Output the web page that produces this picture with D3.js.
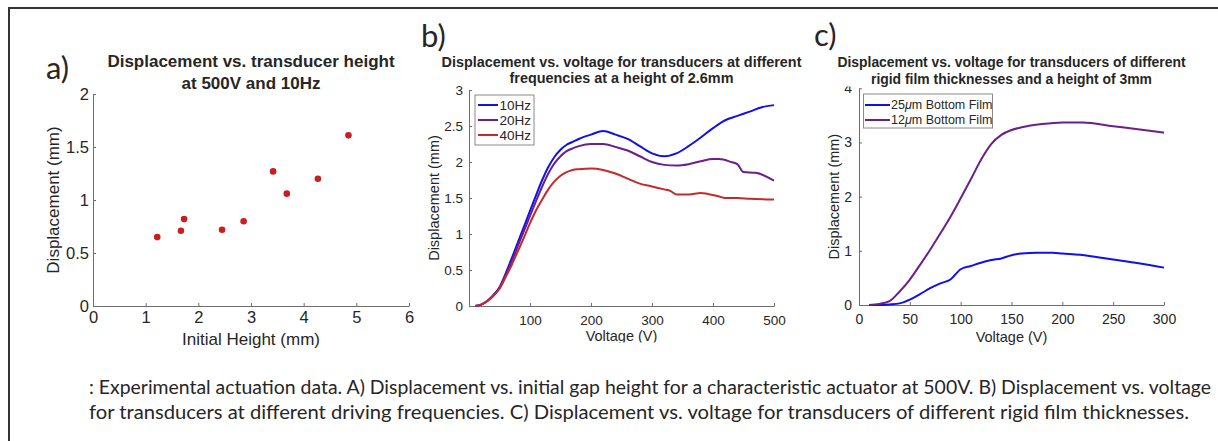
<!DOCTYPE html>
<html>
<head>
<meta charset="utf-8">
<script src="https://cdn.jsdelivr.net/npm/d3@7"></script>
<style>
  body { margin: 0; background: #fff; }
  svg text { font-family: "Liberation Sans", Arial, sans-serif; fill: #262626; }
  .axis path, .axis line { stroke: #6e6e6e; }
</style>
</head>
<body>
<svg id="fig" width="1218" height="441"></svg>
<script>
// panel a: displacement vs initial height
const heightA = [1.22, 1.67, 1.73, 2.45, 2.86, 3.42, 3.68, 4.27, 4.85];
const dispA   = [0.65, 0.71, 0.82, 0.72, 0.80, 1.27, 1.06, 1.20, 1.61];

// panel b: displacement vs voltage at three frequencies
const voltB10 = [10,20,30,40,50,60,70,80,90,100,110,120,130,140,150,160,170,180,200,220,240,260,280,300,320,340,360,380,400,420,440,460,480,500];
const disp10  = [0,0.02,0.07,0.15,0.26,0.45,0.66,0.88,1.10,1.32,1.54,1.75,1.93,2.07,2.17,2.24,2.28,2.32,2.38,2.43,2.38,2.32,2.22,2.12,2.08,2.12,2.22,2.34,2.47,2.58,2.64,2.70,2.76,2.79];
const voltB20 = [10,20,30,40,50,60,70,80,90,100,110,120,130,140,150,160,170,180,200,220,240,260,280,300,320,340,360,380,400,410,430,440,450,470,500];
const disp20  = [0,0.02,0.07,0.15,0.25,0.43,0.62,0.83,1.04,1.25,1.46,1.66,1.84,1.98,2.08,2.15,2.19,2.22,2.25,2.25,2.21,2.16,2.08,2.00,1.96,1.95,1.97,2.01,2.04,2.04,2.00,1.97,1.86,1.85,1.74];
const voltB40 = [10,20,30,40,50,60,70,80,90,100,110,120,130,140,150,160,170,180,200,220,240,260,280,300,320,330,340,360,380,390,410,420,440,460,500];
const disp40  = [0,0.02,0.07,0.14,0.24,0.40,0.57,0.76,0.95,1.15,1.33,1.48,1.62,1.73,1.81,1.86,1.89,1.90,1.91,1.89,1.84,1.77,1.70,1.66,1.62,1.60,1.55,1.55,1.57,1.56,1.52,1.50,1.50,1.49,1.48];
const legendB = ["10Hz", "20Hz", "40Hz"];

// panel c: displacement vs voltage for two film thicknesses
const voltC25 = [10,20,30,40,50,60,70,80,90,100,110,120,130,140,150,160,175,190,200,225,250,275,300];
const disp25  = [0,0,0.01,0.03,0.10,0.20,0.31,0.40,0.47,0.66,0.72,0.78,0.83,0.86,0.92,0.95,0.965,0.965,0.95,0.91,0.84,0.77,0.69];
const voltC12 = [10,20,30,40,50,60,70,80,90,100,110,120,130,140,150,160,180,200,220,250,280,300];
const disp12  = [0,0.02,0.07,0.25,0.47,0.74,1.02,1.32,1.63,1.97,2.32,2.68,2.97,3.14,3.23,3.28,3.34,3.37,3.37,3.30,3.23,3.18];
const legendC = ["25", "12"];

const ticksAx = [0,1,2,3,4,5,6];
const ticksAy = [0,0.5,1,1.5,2];
const ticksBx = [100,200,300,400,500];
const ticksBy = [0,0.5,1,1.5,2,2.5,3];
const ticksCx = [0,50,100,150,200,250,300];
const ticksCy = [0,1,2,3,4];

const captionLines = [
  ": Experimental actuation data. A) Displacement vs. initial gap height for a characteristic actuator at 500V. B) Displacement vs. voltage",
  "for transducers at different driving frequencies. C) Displacement vs. voltage for transducers of different rigid film thicknesses."
];

const blue = "#1010e8", purple = "#6a1f8c", red = "#c42a2a";
const svg = d3.select("#fig");
const fmt = d3.format("~g");

const defs = svg.append("defs");
defs.append("clipPath").attr("id", "cutB").append("rect")
  .attr("x", 400).attr("y", 0).attr("width", 420).attr("height", 342.5);
defs.append("clipPath").attr("id", "cutC").append("rect")
  .attr("x", 800).attr("y", 86.5).attr("width", 400).attr("height", 260);

// frame
svg.append("path")
  .attr("d", "M9,441 V8 H1218")
  .attr("fill", "none").attr("stroke", "#333").attr("stroke-width", 2);

function axes(x, y, o) {
  const g = svg.append("g");
  g.append("g").attr("class", "axis")
    .attr("transform", `translate(0,${y.range()[0]})`)
    .call(d3.axisBottom(x).tickValues(o.xt).tickFormat(fmt)
      .tickSizeInner(-3).tickSizeOuter(0).tickPadding(o.xpad))
    .call(a => a.selectAll("text").style("font-size", o.tick + "px").attr("fill", "#262626"));
  // wrapper without transform so the clip rect is in page coordinates
  const yw = g.append("g");
  if (o.yclip) yw.attr("clip-path", o.yclip);
  yw.append("g").attr("class", "axis")
    .attr("transform", `translate(${x.range()[0]},0)`)
    .call(d3.axisLeft(y).tickValues(o.yt).tickFormat(fmt)
      .tickSizeInner(-3).tickSizeOuter(0).tickPadding(o.ypad))
    .call(a => a.selectAll("text").style("font-size", o.tick + "px").attr("fill", "#262626"));
  g.selectAll(".axis path").attr("stroke", "#6e6e6e");
  g.selectAll(".axis line").attr("stroke", "#6e6e6e");

  const cx = (x.range()[0] + x.range()[1]) / 2;
  const cy = (y.range()[0] + y.range()[1]) / 2;
  const xl = g.append("text").attr("x", cx).attr("y", o.xlabY)
    .attr("text-anchor", "middle").style("font-size", o.lab + "px").text(o.xlab);
  if (o.xclip) xl.attr("clip-path", o.xclip);
  g.append("text").attr("transform", `translate(${o.ylabX},${cy}) rotate(-90)`)
    .attr("text-anchor", "middle").style("font-size", o.lab + "px").text("Displacement (mm)");
  o.title.forEach((t, i) => {
    g.append("text").attr("x", cx).attr("y", o.titleY[i])
      .attr("text-anchor", "middle").style("font-size", o.tsize + "px")
      .style("font-weight", "bold").attr("fill", "#111").text(t);
  });
  return g;
}

function panelLabel(t, x, y) {
  svg.append("text").attr("x", x).attr("y", y)
    .style("font-family", "Lato, 'Open Sans', sans-serif").style("font-size", "31px")
    .attr("fill", "#111").text(t);
}

// ---- panel a
const xa = d3.scaleLinear().domain([0, 6]).range([93, 409]);
const ya = d3.scaleLinear().domain([0, 2]).range([306, 94]);
axes(xa, ya, {
  xt: ticksAx, yt: ticksAy, tick: 16.5, xpad: 5, ypad: 4,
  xlab: "Initial Height (mm)", xlabY: 345, ylabX: 59, lab: 17,
  title: ["Displacement vs. transducer height", "at 500V and 10Hz"], titleY: [67, 89], tsize: 17
});
svg.append("g").selectAll("circle")
  .data(heightA.map((h, i) => [h, dispA[i]]))
  .join("circle")
  .attr("cx", d => xa(d[0])).attr("cy", d => ya(d[1])).attr("r", 3.3)
  .attr("fill", "#c8201e");
panelLabel("a)", 46, 79);

// ---- panel b
const xb = d3.scaleLinear().domain([0, 500]).range([469, 774]);
const yb = d3.scaleLinear().domain([0, 3]).range([306, 90]);
axes(xb, yb, {
  xt: ticksBx, yt: ticksBy, tick: 13.5, xpad: 9, ypad: 6,
  xlab: "Voltage (V)", xlabY: 341, ylabX: 439, lab: 14.5, xclip: "url(#cutB)",
  title: ["Displacement vs. voltage for transducers at different", "frequencies at a height of 2.6mm"],
  titleY: [67, 83], tsize: 14.4
});
const lineB = d3.line().x(d => xb(d[0])).y(d => yb(d[1])).curve(d3.curveMonotoneX);
const seriesB = [
  [voltB10, disp10, blue],
  [voltB20, disp20, purple],
  [voltB40, disp40, red]
];
seriesB.forEach(([v, d, c]) => {
  svg.append("path").datum(v.map((vv, i) => [vv, d[i]]))
    .attr("d", lineB).attr("fill", "none").attr("stroke", c)
    .attr("stroke-width", 2).attr("stroke-linejoin", "round");
});
const legB = svg.append("g");
legB.append("rect").attr("x", 475).attr("y", 95).attr("width", 59).attr("height", 50)
  .attr("fill", "#fff").attr("stroke", "#8a8a8a").attr("stroke-width", 1);
legendB.forEach((t, i) => {
  const yy = 105 + i * 15;
  legB.append("line").attr("x1", 478).attr("x2", 498).attr("y1", yy).attr("y2", yy)
    .attr("stroke", seriesB[i][2]).attr("stroke-width", 2);
  legB.append("text").attr("x", 499.5).attr("y", yy).attr("dy", "0.35em")
    .style("font-size", "13.5px").text(t);
});
panelLabel("b)", 421, 47);

// ---- panel c
const xc = d3.scaleLinear().domain([0, 300]).range([859, 1164]);
const yc = d3.scaleLinear().domain([0, 4]).range([305, 88.3]);
axes(xc, yc, {
  xt: ticksCx, yt: ticksCy, tick: 14, xpad: 9, ypad: 7, yclip: "url(#cutC)",
  xlab: "Voltage (V)", xlabY: 341.5, ylabX: 839, lab: 14.5,
  title: ["Displacement vs. voltage for transducers of different", "rigid film thicknesses and a height of 3mm"],
  titleY: [67, 83.5], tsize: 13.9
});
const lineC = d3.line().x(d => xc(d[0])).y(d => yc(d[1])).curve(d3.curveMonotoneX);
const seriesC = [
  [voltC25, disp25, blue],
  [voltC12, disp12, purple]
];
seriesC.forEach(([v, d, c]) => {
  svg.append("path").datum(v.map((vv, i) => [vv, d[i]]))
    .attr("d", lineC).attr("fill", "none").attr("stroke", c)
    .attr("stroke-width", 2).attr("stroke-linejoin", "round");
});
const legC = svg.append("g");
legC.append("rect").attr("x", 863.5).attr("y", 94).attr("width", 129).attr("height", 34)
  .attr("fill", "#fff").attr("stroke", "#8a8a8a").attr("stroke-width", 1);
legendC.forEach((t, i) => {
  const yy = 105 + i * 15;
  legC.append("line").attr("x1", 865).attr("x2", 890).attr("y1", yy).attr("y2", yy)
    .attr("stroke", seriesC[i][2]).attr("stroke-width", 2);
  const tx = legC.append("text").attr("x", 891).attr("y", yy).attr("dy", "0.35em")
    .style("font-size", "12.5px");
  tx.append("tspan").text(t);
  tx.append("tspan").style("font-style", "italic").text("\u03bc");
  tx.append("tspan").text("m Bottom Film");
});
panelLabel("c)", 814, 46);

// ---- caption
const capW = [1122, 1100];
captionLines.forEach((t, i) => {
  svg.append("text").attr("x", 89).attr("y", 394 + i * 25)
    .style("font-family", "Lato, 'Open Sans', sans-serif").style("font-size", "18.5px")
    .attr("textLength", capW[i]).attr("lengthAdjust", "spacingAndGlyphs")
    .attr("fill", "#111").text(t);
});
</script>
</body>
</html>
